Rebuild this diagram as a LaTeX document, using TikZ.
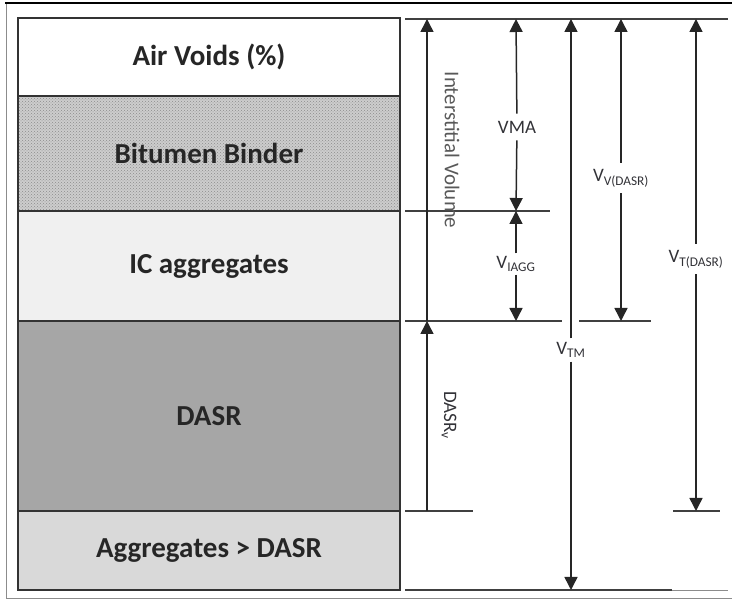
\documentclass[tikz,border=0pt]{standalone}
\usepackage{fontspec}
\setmainfont{Carlito}
\usepackage{tikz}
\usetikzlibrary{arrows.meta,positioning,patterns}
\definecolor{icgray}{RGB}{240,240,240}
\definecolor{dasrgray}{RGB}{166,166,166}
\definecolor{agggray}{RGB}{217,217,217}
\definecolor{bitgray}{RGB}{205,205,205}
\definecolor{lblgray}{RGB}{50,50,55}

\begin{document}
\begin{tikzpicture}[x=1pt,y=-1pt,
  layer/.style={draw=black!80,line width=1.6pt,minimum width=382pt,inner sep=0pt,
    font=\fontsize{29}{32}\selectfont\bfseries,text=black!85},
  dimarrow/.style={-{Triangle[width=13pt,length=13pt]},line width=1.5pt,black!85},
  tickline/.style={line width=1.3pt,black!75},
  lbl/.style={font=\fontsize{19}{21}\selectfont,text=lblgray,inner sep=5pt}]
  \useasboundingbox (0,0) rectangle (732,601);
  % frame
  \draw[black!45,line width=1pt] (6,3) -- (6,599) -- (732,599);
  \draw[black,line width=2pt] (5,3) -- (732,3);
  % layers
  \node[layer,fill=white,minimum height=78pt] (air) at (209,57) {Air Voids (\%)};
  \node[layer,preaction={fill=bitgray},pattern=crosshatch dots,pattern color=black!45,
        minimum height=115pt] (bit) at (209,153.5) {Bitumen Binder};
  \node[layer,fill=icgray,minimum height=110pt] (ic) at (209,266) {IC aggregates};
  \node[layer,fill=dasrgray,minimum height=190pt] (dasr) at (209,416) {DASR};
  \node[layer,fill=agggray,minimum height=79pt] (agg) at (209,550.5) {Aggregates > DASR};
  % level lines
  \draw[tickline] (405,19) -- (728,19);
  \draw[tickline] (405,211) -- (550,211);
  \draw[tickline] (405,321) -- (562,321) (579,321) -- (651,321);
  \draw[tickline] (405,511) -- (473,511) (673,511) -- (720,511);
  \draw[tickline] (405,590) -- (672,590);
  \draw[black!45,line width=0.8pt] (672,590) -- (728,590);
  % arrow ends
  \coordinate (ivT) at (427,19);   \coordinate (ivB) at (427,321);
  \coordinate (dvB) at (427,511);
  \coordinate (vmaT) at (516,19);  \coordinate (vmaB) at (516,211);
  \coordinate (iaB) at (516,321);
  \coordinate (tmT) at (571,19);   \coordinate (tmB) at (571,590);
  \coordinate (vvT) at (621,19);   \coordinate (vvB) at (621,321);
  \coordinate (vtT) at (696,19);   \coordinate (vtB) at (696,511);
  % labels
  \node[lbl,rotate=-90,inner sep=1pt,font=\fontsize{21}{23}\selectfont,text=black!65] (iv) at (452,150) {Interstitial Volume};
  \node[lbl,rotate=-90,inner sep=1pt] (dv) at (449,415) {DASR\textsubscript{v}};
  \node[lbl,inner sep=7pt] (vma) at (517,127) {VMA};
  \node[lbl,inner sep=3pt] (ia) at (516,264) {V\textsubscript{IAGG}};
  \node[lbl,inner sep=4pt] (tm) at (571,350) {V\textsubscript{TM}};
  \node[lbl,inner sep=6pt] (vv) at (621,178) {V\textsubscript{V(DASR)}};
  \node[lbl,inner sep=6pt] (vt) at (696,259) {V\textsubscript{T(DASR)}};
  % dimension arrows
  \draw[dimarrow,{Triangle[width=13pt,length=13pt]}-] (ivT) -- (ivB);
  \draw[dimarrow,{Triangle[width=13pt,length=13pt]}-] (ivB) -- (dvB);
  \draw[dimarrow] (vma) -- (vmaT);
  \draw[dimarrow] (vma) -- (vmaB);
  \draw[dimarrow] (ia) -- (vmaB);
  \draw[dimarrow] (ia) -- (iaB);
  \draw[dimarrow] (tm) -- (tmT);
  \draw[dimarrow] (tm) -- (tmB);
  \draw[dimarrow] (vv) -- (vvT);
  \draw[dimarrow] (vv) -- (vvB);
  \draw[dimarrow] (vt) -- (vtT);
  \draw[dimarrow] (vt) -- (vtB);
\end{tikzpicture}
\end{document}
